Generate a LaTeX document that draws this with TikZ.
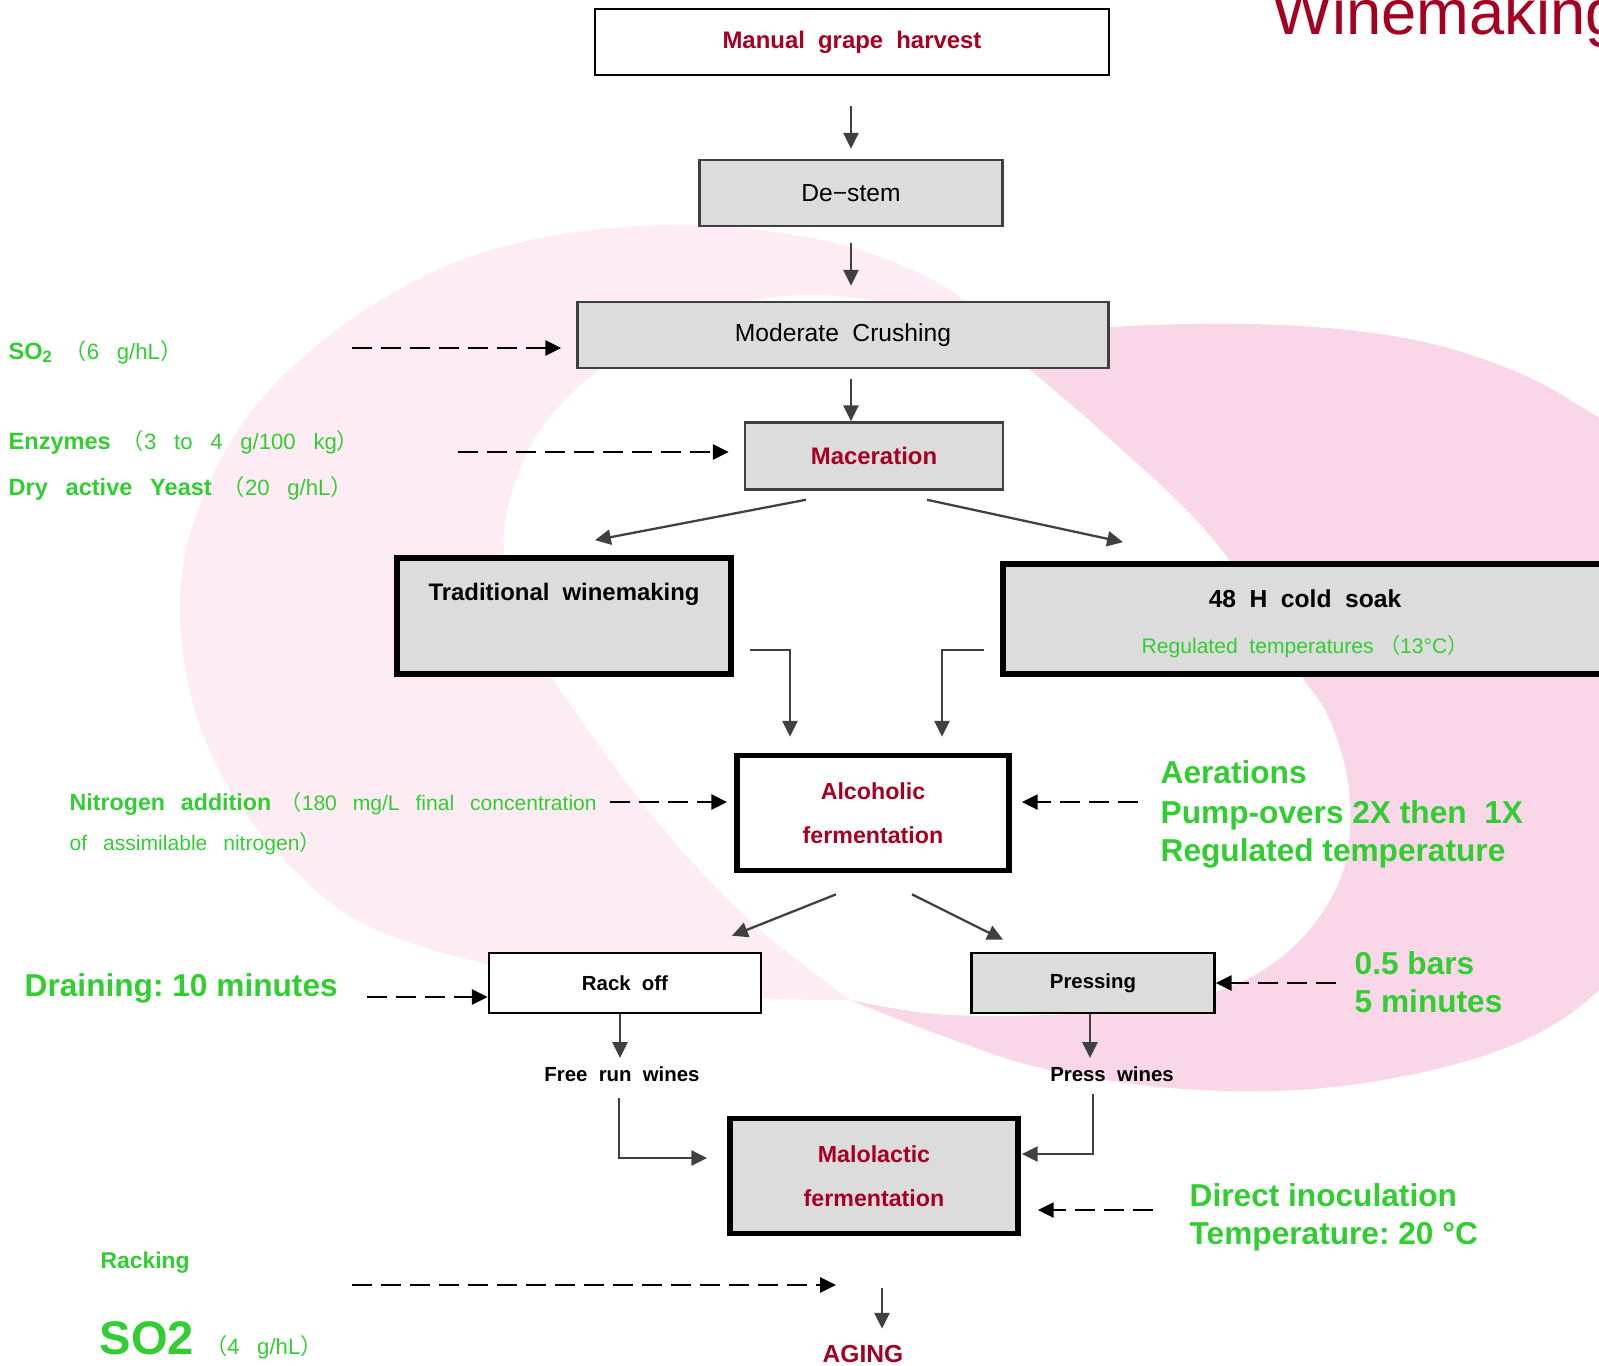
\documentclass[tikz,border=0pt]{standalone}
\usepackage{fontspec}
\setmainfont{Liberation Sans}
\newfontfamily\plainfont{Liberation Sans}
\newfontfamily\cjkfont{Noto Sans CJK KR}
\definecolor{wine}{RGB}{165, 0, 33}
\definecolor{leaf}{RGB}{50, 205, 50}
\definecolor{boxgray}{RGB}{220, 220, 220}
\definecolor{linegray}{RGB}{64, 64, 64}
\definecolor{blush}{RGB}{253, 236, 243}
\definecolor{rose}{RGB}{250, 215, 232}
\usetikzlibrary{arrows.meta, calc}
\newcommand{\spread}[1]{\spaceskip=#1em\relax}
\newcommand{\fwp}[1]{{\cjkfont\kern-0.3em（}#1{\cjkfont ）}}
\newcommand{\leadin}[1]{{\fontsize{6.7}{8}\selectfont\bfseries #1}}
\frenchspacing

\begin{document}
\begin{tikzpicture}[
    x=0.01cm, y=-0.01cm,
    stage/.style={draw=linegray, line width=0.7pt, fill=boxgray, inner sep=0pt, align=center, font=\fontsize{7}{8.4}\selectfont\spread{0.55}},
    openstage/.style={stage, fill=white, draw=black},
    heavystage/.style={stage, draw=black, line width=1.6pt},
    winetxt/.style={text=wine, font=\fontsize{6.6}{12.5}\selectfont\bfseries\spread{0.55}},
    boldtxt/.style={inner sep=0pt, font=\fontsize{6.8}{8}\selectfont\bfseries\spread{0.55}},
    smalltxt/.style={inner sep=0pt, font=\fontsize{5.8}{7}\selectfont\bfseries\spread{0.55}},
    flow/.style={-{Triangle[length=4.5pt, width=4.3pt]}, line width=0.65pt, linegray},
    feed/.style={flow, black, dash pattern=on 0.2cm off 0.09cm},
    addnote/.style={text=leaf, inner sep=0pt, anchor=base west, font=\fontsize{6.3}{7.5}\selectfont\spread{0.8}},
    bignote/.style={addnote, font=\plainfont\fontsize{9}{11}\selectfont\bfseries}
]
    \useasboundingbox (0,0) rectangle (1599,1366);
    \clip (0,0) rectangle (1599,1366);

    % background swooshes
    \fill[blush] plot[smooth, tension=0.6] coordinates {(1010,345) (950,290) (860,250) (760,230) (660,225) (540,238) (433,272) (330,335) (250,413) (198,510) (180,600) (192,700) (230,790) (292,868) (366,925) (478,962) (612,985) (760,998) (850,1000)}
        -- plot[smooth, tension=0.6] coordinates {(850,1000) (760,930) (690,860) (640,800) (588,730) (530,640) (505,560) (510,500) (540,430) (600,369) (680,320) (800,295) (920,310) (1010,345)} -- cycle;
    \fill[rose] plot[smooth, tension=0.6] coordinates {(1000,345) (1100,328) (1250,324) (1380,334) (1480,358) (1570,400) (1650,470) (1710,650) (1680,880) (1599,990) (1500,1050) (1350,1085) (1200,1090) (1050,1070) (940,1035) (850,1000)}
        -- plot[smooth, tension=0.6] coordinates {(850,1000) (950,1015) (1100,1012) (1213,993) (1290,950) (1340,880) (1350,800) (1330,720) (1290,660) (1214,540) (1100,430) (1000,345)} -- cycle;

    \node[anchor=base west, inner sep=0pt, text=wine, font=\plainfont\fontsize{18}{20}\selectfont] (title) at (1272,34) {Winemaking};

    % stages
    \node[openstage, minimum width=5.14cm, minimum height=0.66cm, boldtxt, text=wine] (harvest) at (852,42) {Manual grape harvest};
    \node[stage, minimum width=3.03cm, minimum height=0.66cm] (destem) at (851,193) {De−stem};
    \node[stage, minimum width=5.31cm, minimum height=0.66cm] (crush) at (843,335) {Moderate Crushing};
    \node[stage, minimum width=2.58cm, minimum height=0.67cm, boldtxt, text=wine] (macer) at (874,456) {Maceration};
    \node[heavystage, minimum width=3.34cm, minimum height=1.16cm] (tradbox) at (564,616) {};
    \node[boldtxt] (tradtxt) at ($(tradbox.north)+(0,39)$) {Traditional winemaking};
    \node[heavystage, minimum width=6.04cm, minimum height=1.10cm] (soak) at (1305,619) {};
    \node[boldtxt, font=\fontsize{7}{8}\selectfont\bfseries\spread{0.55}] (soakhead) at ($(soak.center)+(0,-20)$) {48 H cold soak};
    \node[inner sep=0pt, text=leaf, font=\fontsize{6}{7}\selectfont\spread{0.55}] (soaktemp) at ($(soak.center)+(0,28)$) {Regulated temperatures \fwp{13°C}};
    \node[heavystage, fill=white, minimum width=2.72cm, minimum height=1.15cm, winetxt] (alco) at (873,813) {Alcoholic\\fermentation};
    \node[openstage, minimum width=2.72cm, minimum height=0.60cm, smalltxt] (rack) at (625,983) {Rack off};
    \node[stage, draw=black, minimum width=2.43cm, minimum height=0.60cm, smalltxt] (press) at (1093,983) {Pressing};
    \node[smalltxt] (freerun) at (622,1074) {Free run wines};
    \node[smalltxt] (presswine) at (1112,1074) {Press wines};
    \node[heavystage, minimum width=2.88cm, minimum height=1.15cm, winetxt] (malo) at (874,1176) {Malolactic\\fermentation};
    \node[inner sep=0pt, text=wine, font=\fontsize{7}{8}\selectfont\bfseries] (aging) at (863,1354) {AGING};

    % additions
    \node[addnote] (so2) at (8,359) {\leadin{SO\textsubscript{2}} \fwp{6 g/hL}};
    \node[addnote] (enzymes) at (8,449) {\leadin{Enzymes} \fwp{3 to 4 g/100 kg}};
    \node[addnote] (yeast) at (8,495) {\leadin{Dry active Yeast} \fwp{20 g/hL}};
    \node[addnote, font=\fontsize{6}{7}\selectfont\spread{0.75}] (nitro) at (69,810) {{\fontsize{6.6}{8}\selectfont\bfseries Nitrogen addition} {\cjkfont\kern-0.3em（}180 mg/L final concentration};
    \node[addnote, font=\fontsize{6}{7}\selectfont\spread{0.75}] (nitromore) at (69,850) {of assimilable nitrogen{\cjkfont ）}};
    \node[addnote, font=\fontsize{6.5}{8}\selectfont\bfseries] (racking) at (100,1268) {Racking};
    \node[addnote] (so2late) at (99,1354) {{\plainfont\fontsize{13.4}{15}\selectfont\bfseries SO2} \fwp{4 g/hL}};
    \node[bignote] (drain) at (24,996) {Draining: 10 minutes};
    \node[bignote] (aer) at (1160,783) {Aerations};
    \node[bignote] (pump) at (1160,823) {Pump-overs 2X then~ 1X};
    \node[bignote] (regtemp) at (1160,861) {Regulated temperature};
    \node[bignote] (bars) at (1354,974) {0.5 bars};
    \node[bignote] (pressmin) at (1354,1012) {5 minutes};
    \node[bignote] (inoc) at (1189,1206) {Direct inoculation};
    \node[bignote] (mlftemp) at (1189,1244) {Temperature: 20 °C};

    % main flow
    \draw[flow, shorten <=0.3cm, shorten >=0.1cm] (harvest.south -| destem.south) -- (destem.north);
    \draw[flow, shorten <=0.16cm, shorten >=0.15cm] (destem.south) -- (crush.north -| destem.south);
    \draw[flow, shorten <=0.1cm] (crush.south -| destem.south) -- (macer.north -| destem.south);
    \draw[flow] ($(macer.south)+(-68,9)$) -- ($(tradbox.north)+(31,-15)$);
    \draw[flow] ($(macer.south)+(53,9)$) -- ($(soak.north)+(-182,-19)$);
    \draw[flow] ($(tradbox.east)+(16,34)$) -| ($(alco.north)+(-83,-16)$);
    \draw[flow] ($(soak.west)+(-16,31)$) -| ($(alco.north)+(69,-16)$);
    \draw[flow] ($(alco.south)+(-37,21)$) -- ($(rack.north)+(107,-16)$);
    \draw[flow] ($(alco.south)+(39,21)$) -- ($(press.north)+(-90,-12)$);
    \draw[flow] ($(rack.south)+(-5,0)$) -- ($(freerun.center)+(-2,-16)$);
    \draw[flow] ($(press.south)+(-3,0)$) -- ($(presswine.center)+(-22,-16)$);
    \draw[flow] ($(freerun.center)+(-3,24)$) |- ($(malo.west)+(-20,-18)$);
    \draw[flow] ($(presswine.center)+(-19,20)$) |- ($(malo.east)+(1,-22)$);
    \draw[flow] ($(malo.south)+(8,52)$) -- ($(aging.north)+(19,-16)$);

    % dashed feeds
    \coordinate (so2feed) at (352,348);
    \coordinate (enzfeed) at (458,452);
    \coordinate (nitrofeed) at (610,802);
    \coordinate (aerfeed) at (1138,802);
    \coordinate (drainfeed) at (367,997);
    \coordinate (barsfeed) at (1336,983);
    \coordinate (inocfeed) at (1153,1210);
    \coordinate (rackfeed) at (352,1285);
    \draw[feed, shorten >=0.15cm] (so2feed) -- (so2feed -| crush.west);
    \draw[feed, shorten >=0.15cm] (enzfeed) -- (enzfeed -| macer.west);
    \draw[feed, shorten >=0.07cm] (nitrofeed) -- (nitrofeed -| alco.west);
    \draw[feed, shorten >=0.1cm] (aerfeed) -- (aerfeed -| alco.east);
    \draw[feed] (drainfeed) -- (drainfeed -| rack.west);
    \draw[feed] (barsfeed) -- (barsfeed -| press.east);
    \draw[feed, shorten >=0.17cm] (inocfeed) -- (inocfeed -| malo.east);
    \draw[feed, shorten >=0.27cm] (rackfeed) -- (rackfeed -| aging.north);
\end{tikzpicture}
\end{document}
